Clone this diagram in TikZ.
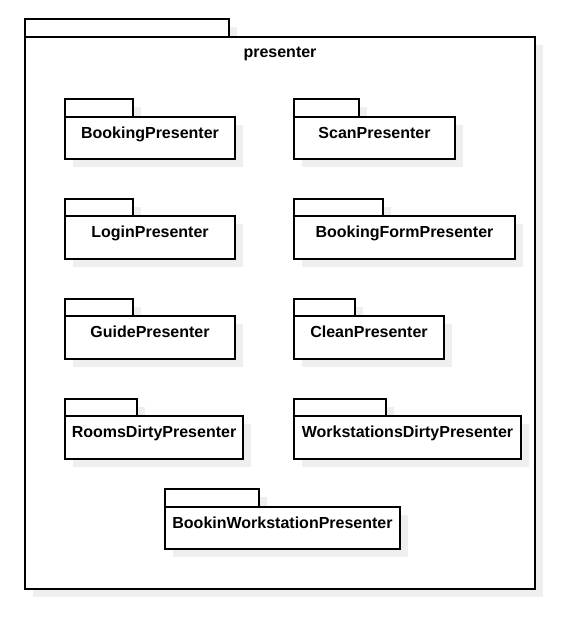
\documentclass[tikz,border=0pt]{standalone}
\usepackage{fontspec}
\setmainfont{Liberation Sans}
\usetikzlibrary{shadows,calc}
\definecolor{shade}{HTML}{EFEFEF}
\tikzset{
  pkgshadow/.style={drop shadow={shadow xshift=8pt, shadow yshift=-8pt, fill=shade, opacity=1}},
  tabbox/.style={draw=black, line width=1.1pt, fill=white, rectangle, inner sep=0pt, outer sep=0pt, pkgshadow},
  bodybox/.style={draw=black, line width=1.1pt, fill=white, rectangle, inner sep=0pt, outer sep=0pt, pkgshadow},
  lbl/.style={font=\bfseries\fontsize{16}{19}\selectfont, inner sep=0pt, text=black}
}
\newcommand{\pkgbox}[8]{%
  \node[tabbox, minimum width={(#3-#2)*1pt}, minimum height={(#6-#5)*1pt}, anchor=north west] (#1tab) at (#2,#5) {};
  \node[bodybox, minimum width={(#4-#2)*1pt}, minimum height={(#7-#6)*1pt}, anchor=north west] (#1) at (#2,#6) {};
  \node[lbl, anchor=base] (#1lbl) at ([yshift=-21pt]#1.north) {#8};
}
\begin{document}
\begin{tikzpicture}[x=1pt,y=-1pt]
\useasboundingbox (0,0) rectangle (566,618);
% outer package
\node[tabbox, minimum width=204pt, minimum height=18pt, anchor=north west] (outertab) at (25,19) {};
\node[bodybox, minimum width=510pt, minimum height=552pt, anchor=north west] (outer) at (25,37) {};
\node[lbl, anchor=base] (outerlbl) at ([yshift=-20pt]outer.north) {presenter};
% inner packages
\pkgbox{booking}{65}{133}{235}{99}{117}{159}{BookingPresenter}
\pkgbox{scan}{294}{359}{455}{99}{117}{159}{ScanPresenter}
\pkgbox{login}{65}{133}{235}{199}{216}{259}{LoginPresenter}
\pkgbox{bookingform}{294}{383}{515}{199}{216}{259}{BookingFormPresenter}
\pkgbox{guide}{65}{133}{235}{299}{316}{359}{GuidePresenter}
\pkgbox{clean}{294}{355}{444}{299}{316}{359}{CleanPresenter}
\pkgbox{roomsdirty}{65}{137}{243}{399}{416}{459}{RoomsDirtyPresenter}
\pkgbox{wsdirty}{294}{386}{521}{399}{416}{459}{WorkstationsDirtyPresenter}
\pkgbox{bookinws}{165}{259}{400}{489}{507}{549}{BookinWorkstationPresenter}
\end{tikzpicture}
\end{document}
